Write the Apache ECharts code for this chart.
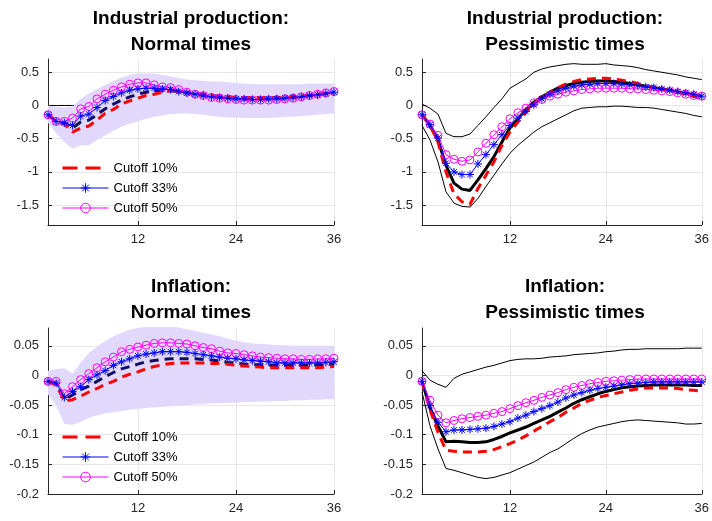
<!DOCTYPE html>
<html><head><meta charset="utf-8">
<script src="https://cdn.jsdelivr.net/npm/echarts@6/dist/echarts.min.js"></script>
<style>html,body{margin:0;padding:0;background:#fff}#c{width:712px;height:521px}</style>
</head><body><div id="c"></div>
<script>
// ---------- data ----------
const months = [1,2,3,4,5,6,7,8,9,10,11,12,13,14,15,16,17,18,19,20,21,22,23,24,25,26,27,28,29,30,31,32,33,34,35,36];
const xTickMonths = [12, 24, 36];
const ipTicks = [-1.5, -1, -0.5, 0, 0.5];
const infTicks = [-0.2, -0.15, -0.1, -0.05, 0, 0.05];
const legendNames = ['Cutoff 10%', 'Cutoff 33%', 'Cutoff 50%'];
const titles = ['Industrial production:\nNormal times', 'Industrial production:\nPessimistic times', 'Inflation:\nNormal times', 'Inflation:\nPessimistic times'];

// Industrial production, normal times
const ipNormBase = [-0.14,-0.24,-0.27,-0.34,-0.25,-0.22,-0.14,-0.05,0.02,0.08,0.13,0.17,0.20,0.22,0.23,0.22,0.21,0.19,0.17,0.15,0.13,0.12,0.11,0.10,0.10,0.10,0.10,0.10,0.11,0.11,0.12,0.13,0.15,0.16,0.18,0.20];
const ipNormLo = [-0.26,-0.42,-0.55,-0.65,-0.60,-0.60,-0.52,-0.45,-0.38,-0.32,-0.27,-0.24,-0.20,-0.17,-0.15,-0.13,-0.12,-0.12,-0.13,-0.14,-0.16,-0.17,-0.18,-0.18,-0.19,-0.19,-0.19,-0.19,-0.18,-0.17,-0.17,-0.16,-0.15,-0.14,-0.13,-0.12];
const ipNormHi = [0.00,-0.02,-0.03,-0.02,0.10,0.18,0.25,0.31,0.37,0.42,0.46,0.48,0.48,0.48,0.46,0.44,0.41,0.39,0.38,0.37,0.36,0.36,0.35,0.34,0.33,0.32,0.32,0.32,0.32,0.32,0.32,0.32,0.33,0.33,0.33,0.33];
const ipNorm10 = [-0.14,-0.24,-0.28,-0.40,-0.34,-0.31,-0.22,-0.12,-0.06,0.02,0.07,0.11,0.15,0.17,0.20,0.22,0.22,0.20,0.18,0.17,0.15,0.14,0.13,0.12,0.12,0.12,0.12,0.12,0.12,0.12,0.13,0.14,0.15,0.17,0.18,0.19];
const ipNorm33 = [-0.14,-0.24,-0.26,-0.30,-0.16,-0.13,-0.03,0.075,0.135,0.19,0.23,0.25,0.26,0.26,0.25,0.24,0.21,0.19,0.17,0.15,0.13,0.12,0.11,0.10,0.10,0.09,0.09,0.10,0.10,0.11,0.12,0.13,0.15,0.16,0.18,0.20];
const ipNorm50 = [-0.14,-0.24,-0.24,-0.19,-0.05,-0.015,0.10,0.17,0.23,0.28,0.32,0.34,0.34,0.31,0.28,0.27,0.24,0.20,0.17,0.15,0.12,0.11,0.10,0.09,0.08,0.08,0.08,0.08,0.09,0.10,0.11,0.13,0.15,0.17,0.19,0.21];

// Industrial production, pessimistic times
const ipPessBase = [-0.14,-0.30,-0.52,-0.90,-1.17,-1.26,-1.28,-1.12,-0.95,-0.77,-0.55,-0.34,-0.20,-0.06,0.05,0.13,0.20,0.26,0.30,0.33,0.35,0.36,0.37,0.37,0.36,0.35,0.33,0.31,0.29,0.27,0.25,0.23,0.20,0.18,0.16,0.14];
const ipPessLo = [-0.30,-0.52,-0.85,-1.30,-1.47,-1.52,-1.53,-1.40,-1.22,-1.05,-0.88,-0.72,-0.60,-0.50,-0.40,-0.32,-0.26,-0.20,-0.14,-0.08,-0.04,-0.03,-0.02,-0.02,-0.01,-0.01,-0.02,-0.03,-0.03,-0.04,-0.06,-0.08,-0.10,-0.12,-0.15,-0.17];
const ipPessHi = [0.02,-0.04,-0.13,-0.42,-0.47,-0.47,-0.43,-0.30,-0.17,-0.03,0.10,0.26,0.33,0.40,0.50,0.55,0.58,0.60,0.62,0.63,0.62,0.62,0.62,0.63,0.61,0.60,0.59,0.57,0.54,0.52,0.50,0.48,0.46,0.43,0.41,0.39];
const ipPess10 = [-0.14,-0.30,-0.55,-1.00,-1.33,-1.45,-1.49,-1.25,-1.05,-0.85,-0.60,-0.40,-0.25,-0.10,0.03,0.12,0.20,0.27,0.32,0.36,0.39,0.40,0.41,0.41,0.40,0.38,0.36,0.33,0.30,0.28,0.25,0.22,0.20,0.17,0.14,0.10];
const ipPess33 = [-0.14,-0.29,-0.49,-0.87,-1.00,-1.04,-1.04,-0.88,-0.74,-0.59,-0.44,-0.30,-0.19,-0.09,0.01,0.10,0.17,0.22,0.26,0.29,0.31,0.32,0.33,0.33,0.33,0.32,0.31,0.30,0.28,0.27,0.25,0.23,0.21,0.19,0.17,0.14];
const ipPess50 = [-0.14,-0.28,-0.45,-0.74,-0.81,-0.84,-0.82,-0.70,-0.57,-0.44,-0.32,-0.20,-0.11,-0.04,0.04,0.09,0.14,0.17,0.20,0.22,0.24,0.25,0.26,0.26,0.26,0.26,0.25,0.25,0.24,0.23,0.22,0.21,0.19,0.17,0.15,0.14];

// Inflation, normal times
const infNormBase = [-0.010,-0.014,-0.040,-0.033,-0.024,-0.018,-0.010,-0.002,0.005,0.011,0.015,0.019,0.023,0.025,0.027,0.028,0.028,0.028,0.028,0.027,0.026,0.024,0.022,0.021,0.019,0.018,0.018,0.017,0.017,0.017,0.017,0.017,0.017,0.018,0.018,0.019];
const infNormLo = [-0.032,-0.050,-0.082,-0.083,-0.078,-0.072,-0.067,-0.064,-0.062,-0.060,-0.058,-0.056,-0.055,-0.054,-0.053,-0.052,-0.051,-0.050,-0.049,-0.048,-0.047,-0.047,-0.046,-0.046,-0.045,-0.045,-0.044,-0.044,-0.043,-0.043,-0.042,-0.042,-0.041,-0.041,-0.040,-0.040];
const infNormHi = [0.008,0.011,0.012,0.003,0.022,0.038,0.049,0.058,0.066,0.072,0.077,0.080,0.082,0.083,0.083,0.083,0.081,0.078,0.075,0.072,0.069,0.066,0.062,0.059,0.056,0.054,0.053,0.052,0.051,0.051,0.050,0.050,0.050,0.050,0.050,0.050];
const infNorm10 = [-0.010,-0.016,-0.043,-0.041,-0.035,-0.028,-0.022,-0.015,-0.010,-0.003,0.002,0.006,0.011,0.015,0.018,0.020,0.021,0.021,0.021,0.021,0.020,0.020,0.019,0.017,0.016,0.015,0.014,0.013,0.013,0.013,0.013,0.013,0.013,0.013,0.014,0.015];
const infNorm33 = [-0.010,-0.013,-0.037,-0.027,-0.019,-0.007,0.001,0.008,0.017,0.023,0.028,0.033,0.036,0.038,0.040,0.040,0.040,0.039,0.037,0.035,0.033,0.031,0.029,0.028,0.026,0.025,0.024,0.023,0.021,0.021,0.021,0.021,0.021,0.021,0.022,0.023];
const infNorm50 = [-0.010,-0.010,-0.031,-0.019,-0.007,0.003,0.013,0.023,0.031,0.040,0.044,0.048,0.051,0.054,0.055,0.055,0.054,0.053,0.050,0.047,0.045,0.041,0.038,0.037,0.035,0.033,0.031,0.030,0.029,0.028,0.028,0.027,0.027,0.028,0.028,0.029];

// Inflation, pessimistic times
const infPessBase = [-0.010,-0.055,-0.085,-0.112,-0.111,-0.112,-0.113,-0.113,-0.112,-0.108,-0.103,-0.097,-0.092,-0.087,-0.081,-0.075,-0.069,-0.062,-0.055,-0.047,-0.041,-0.036,-0.031,-0.027,-0.024,-0.021,-0.019,-0.018,-0.017,-0.016,-0.016,-0.016,-0.016,-0.016,-0.017,-0.017];
const infPessLo = [-0.028,-0.085,-0.124,-0.157,-0.160,-0.164,-0.168,-0.172,-0.174,-0.172,-0.168,-0.164,-0.158,-0.152,-0.146,-0.138,-0.130,-0.124,-0.115,-0.106,-0.098,-0.092,-0.087,-0.084,-0.081,-0.078,-0.076,-0.075,-0.076,-0.077,-0.078,-0.079,-0.080,-0.082,-0.082,-0.081];
const infPessHi = [0.008,-0.008,-0.015,-0.020,-0.005,0.002,0.006,0.010,0.014,0.017,0.021,0.025,0.027,0.028,0.028,0.029,0.031,0.032,0.033,0.035,0.036,0.037,0.038,0.040,0.041,0.043,0.044,0.044,0.045,0.045,0.045,0.045,0.045,0.046,0.046,0.046];
const infPess10 = [-0.010,-0.058,-0.096,-0.126,-0.128,-0.129,-0.129,-0.129,-0.128,-0.125,-0.120,-0.115,-0.109,-0.102,-0.094,-0.086,-0.078,-0.071,-0.062,-0.055,-0.047,-0.042,-0.037,-0.034,-0.031,-0.028,-0.025,-0.023,-0.021,-0.021,-0.021,-0.021,-0.022,-0.024,-0.025,-0.027];
const infPess33 = [-0.010,-0.051,-0.079,-0.095,-0.092,-0.092,-0.091,-0.090,-0.089,-0.086,-0.082,-0.078,-0.072,-0.067,-0.061,-0.056,-0.051,-0.045,-0.038,-0.033,-0.029,-0.025,-0.022,-0.020,-0.018,-0.016,-0.014,-0.013,-0.012,-0.011,-0.011,-0.011,-0.011,-0.011,-0.011,-0.011];
const infPess50 = [-0.010,-0.042,-0.067,-0.080,-0.076,-0.073,-0.071,-0.069,-0.067,-0.064,-0.061,-0.056,-0.051,-0.046,-0.042,-0.037,-0.033,-0.029,-0.024,-0.020,-0.017,-0.014,-0.012,-0.010,-0.009,-0.008,-0.007,-0.006,-0.006,-0.006,-0.006,-0.006,-0.006,-0.006,-0.006,-0.006];

// ---------- style ----------
const FONT = "'Liberation Sans', Arial, Helvetica, sans-serif";
const AX = '#262626';
const GRIDC = '#e6e6e6';
const BAND = '#e1d8fb';
const NAVY = '#0e0e62';
const RED = '#ff0000', BLUE = '#0000ff', MAG = '#ff00ff';
const STAR = 'path://M0,-10L0,10M-10,0L10,0M-7,-7L7,7M-7,7L7,-7';

const grids = [
  {left: 48, top: 59, width: 286, height: 166},
  {left: 422, top: 59, width: 285, height: 166},
  {left: 48, top: 328, width: 286, height: 166},
  {left: 422, top: 328, width: 285, height: 166}
];
const yRanges = [[-1.8, 0.7, ipTicks], [-1.8, 0.7, ipTicks], [-0.2, 0.08, infTicks], [-0.2, 0.08, infTicks]];
const titleCenters = [[191, 6], [565, 6], [191, 274], [565, 274]];

const xShow = (i) => xTickMonths.indexOf(months[i]) >= 0;

const xAxes = grids.map((g, i) => ({
  type: 'category', gridIndex: i, data: months, boundaryGap: false,
  axisLine: {show: true, onZero: false, lineStyle: {color: AX, width: 1}},
  axisTick: {show: true, inside: true, length: 4, interval: xShow, lineStyle: {color: AX}},
  axisLabel: {show: true, interval: xShow, color: AX, fontSize: 13, fontFamily: FONT, margin: 8},
  splitLine: {show: true, interval: xShow, lineStyle: {color: GRIDC, width: 1}}
}));
const yAxes = grids.map((g, i) => ({
  type: 'value', gridIndex: i, min: yRanges[i][0], max: yRanges[i][1],
  axisLine: {show: true, onZero: false, lineStyle: {color: AX, width: 1}},
  axisTick: {show: true, inside: true, length: 4, customValues: yRanges[i][2], lineStyle: {color: AX}},
  axisLabel: {show: true, customValues: yRanges[i][2], color: AX, fontSize: 13, fontFamily: FONT, margin: 9},
  splitLine: {show: true, lineStyle: {color: GRIDC, width: 1}}
}));

const series = [];
function ax(i) { return {xAxisIndex: i, yAxisIndex: i}; }
function plain(i, data, color, width, type, z) {
  series.push(Object.assign({type: 'line', data: data, symbol: 'none', silent: true, z: z,
    lineStyle: {color: color, width: width, type: type}}, ax(i)));
}
function shadedBand(i, lo, hi) {
  series.push(Object.assign({type: 'line', data: lo, stack: 'band' + i, stackStrategy: 'all', symbol: 'none', silent: true, z: 1,
    lineStyle: {opacity: 0}}, ax(i)));
  series.push(Object.assign({type: 'line', data: hi.map((v, k) => v - lo[k]), stack: 'band' + i, stackStrategy: 'all', symbol: 'none', silent: true, z: 1,
    lineStyle: {opacity: 0}, areaStyle: {color: BAND, opacity: 1}}, ax(i)));
}
function cutoffs(i, d10, d33, d50) {
  series.push(Object.assign({name: legendNames[0], type: 'line', data: d10, symbol: 'none', z: 4,
    itemStyle: {color: RED}, lineStyle: {color: RED, width: 3, type: [9, 6]}}, ax(i)));
  series.push(Object.assign({name: legendNames[2], type: 'line', data: d50, symbol: 'circle', symbolSize: 8, showAllSymbol: true, z: 5,
    itemStyle: {color: 'rgba(0,0,0,0)', borderColor: MAG, borderWidth: 1},
    lineStyle: {color: MAG, width: 1}}, ax(i)));
  series.push(Object.assign({name: legendNames[1], type: 'line', data: d33, symbol: STAR, symbolSize: 8, showAllSymbol: true, z: 6,
    itemStyle: {color: 'rgba(0,0,0,0)', borderColor: BLUE, borderWidth: 1},
    lineStyle: {color: BLUE, width: 1}}, ax(i)));
}

// panel 0: IP normal
plain(0, months.map(() => 0), '#000', 1, 'solid', 0);
shadedBand(0, ipNormLo, ipNormHi);
plain(0, ipNormBase, NAVY, 3, [9, 6], 3);
cutoffs(0, ipNorm10, ipNorm33, ipNorm50);
// panel 1: IP pessimistic
plain(1, ipPessLo, '#000', 1, 'solid', 2);
plain(1, ipPessHi, '#000', 1, 'solid', 2);
plain(1, ipPessBase, '#000', 3, 'solid', 3);
cutoffs(1, ipPess10, ipPess33, ipPess50);
// panel 2: inflation normal
plain(2, months.map(() => 0), '#000', 1, 'solid', 0);
shadedBand(2, infNormLo, infNormHi);
plain(2, infNormBase, NAVY, 3, [9, 6], 3);
cutoffs(2, infNorm10, infNorm33, infNorm50);
// panel 3: inflation pessimistic
plain(3, infPessLo, '#000', 1, 'solid', 2);
plain(3, infPessHi, '#000', 1, 'solid', 2);
plain(3, infPessBase, '#000', 3, 'solid', 3);
cutoffs(3, infPess10, infPess33, infPess50);

const legendData = [
  {name: legendNames[0], itemStyle: {opacity: 0}, lineStyle: {color: RED, width: 3, type: [15, 8]}},
  {name: legendNames[1], itemStyle: {color: 'rgba(0,0,0,0)', borderColor: BLUE, borderWidth: 1}, lineStyle: {color: BLUE, width: 1, type: 'solid'}},
  {name: legendNames[2], itemStyle: {color: 'rgba(0,0,0,0)', borderColor: MAG, borderWidth: 1}, lineStyle: {color: MAG, width: 1, type: 'solid'}}
];
function legendAt(top) {
  return {data: legendData, orient: 'vertical', left: 61, top: top, itemWidth: 46, itemHeight: 12, itemGap: 7,
    selectedMode: false, padding: 0,
    textStyle: {color: '#000', fontSize: 13, fontFamily: FONT}};
}

const option = {
  animation: false,
  backgroundColor: '#fff',
  title: titles.map((t, i) => ({
    text: t, left: titleCenters[i][0], top: titleCenters[i][1], textAlign: 'center', padding: 0,
    textStyle: {fontSize: 19, fontWeight: 'bold', color: '#000', fontFamily: FONT, lineHeight: 26}
  })),
  legend: [legendAt(161.5), legendAt(430.5)],
  grid: grids,
  xAxis: xAxes,
  yAxis: yAxes,
  series: series
};
const chart = echarts.init(document.getElementById('c'), null, {renderer: 'canvas'});
chart.setOption(option);
</script>
</body></html>
